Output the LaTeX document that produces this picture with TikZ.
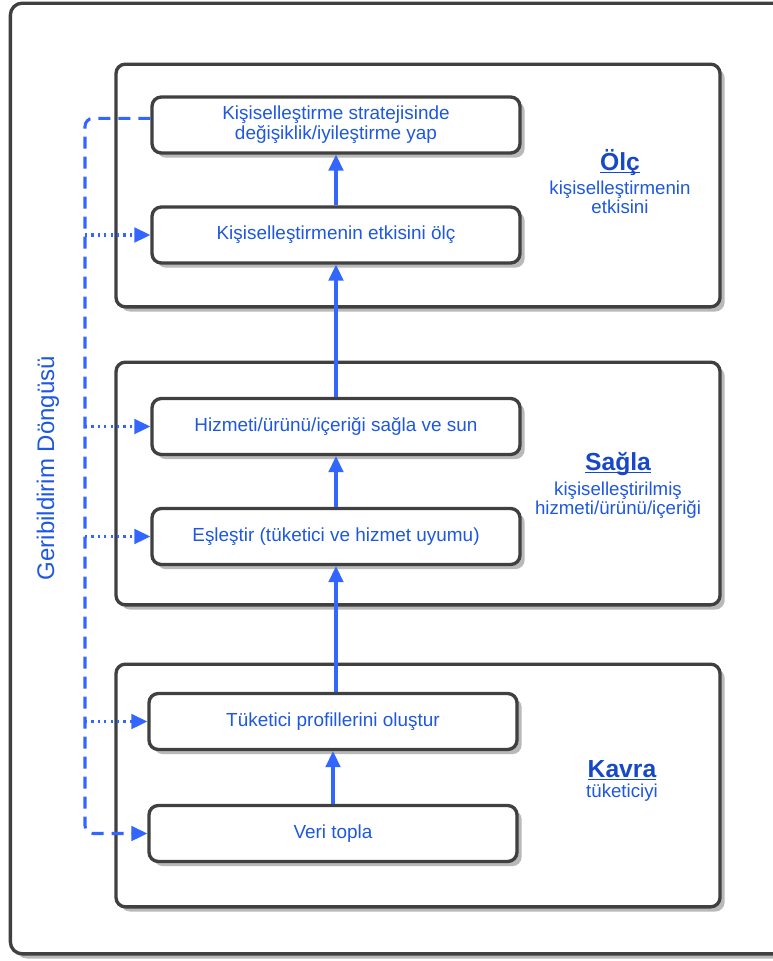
\documentclass[tikz,border=0pt]{standalone}
\usepackage{fontspec}
\setmainfont{Liberation Sans}
\usetikzlibrary{arrows.meta,shadows}

\definecolor{lineblue}{RGB}{51,102,255}
\definecolor{textblue}{RGB}{30,88,222}
\definecolor{titleblue}{RGB}{22,72,200}
\definecolor{edgegray}{RGB}{64,64,64}
\definecolor{shadegray}{RGB}{185,185,185}

\newcommand{\stagetitle}[1]{\underline{\smash{#1}}}

\begin{document}
\begin{tikzpicture}[x=0.75pt,y=-0.75pt,
  panel/.style={draw=edgegray, line width=2.5pt, fill=white, rounded corners=7pt,
    drop shadow={shadow xshift=3.5pt, shadow yshift=-3.5pt, fill=shadegray, opacity=1}},
  stepbox/.style={panel, minimum width=276pt, minimum height=42pt, inner sep=0pt,
    text=textblue, align=center, font=\fontsize{14.2}{15}\selectfont},
  group/.style={panel, minimum width=453pt, minimum height=182pt},
  grouptitle/.style={anchor=base, text=titleblue, font=\bfseries\fontsize{18.5}{20}\selectfont},
  groupsub/.style={text=textblue, align=center, font=\fontsize{14}{14.5}\selectfont},
  tip/.style={-{Triangle[length=12pt,width=11pt]}},
  flow/.style={draw=lineblue, line width=2.3pt, tip},
  fbdash/.style={draw=lineblue, line width=2.3pt, dash pattern=on 9pt off 6pt, rounded corners=6pt},
  fbdot/.style={draw=lineblue, line width=2.3pt, dash pattern=on 1.6pt off 3.2pt, tip}
]
% canvas
\useasboundingbox (0,0) rectangle (772,961);
\fill[white] (0,0) rectangle (772,961);

% outer frame (runs past the right edge)
\node[panel, rounded corners=9pt, minimum width=592pt, minimum height=713pt] (frame) at (405,478.5) {};

% the three stage panels
\node[group] (gOlc)   at (418,185.5) {};
\node[group] (gSagla) at (418,483.5) {};
\node[group] (gKavra) at (418,785.5) {};

% stage titles (placed by their baselines)
\node[grouptitle] (tOlc) at (620,170) {\stagetitle{Ölç}};
\node[groupsub]   (sOlc) at (620,197) {kişiselleştirmenin\\etkisini};
\node[grouptitle] (tSagla) at (618,470) {\stagetitle{Sağla}};
\node[groupsub]   (sSagla) at (618,500) {kişiselleştirilmiş\\hizmeti/ürünü/içeriği};
\node[grouptitle] (tKavra) at (622,777) {\stagetitle{Kavra}};
\node[groupsub]   (sKavra) at (622,793) {tüketiciyi};

% process steps
\node[stepbox] (b1) at (336,125)   {Kişiselleştirme stratejisinde\\değişiklik/iyileştirme yap};
\node[stepbox] (b2) at (336,235)   {Kişiselleştirmenin etkisini ölç};
\node[stepbox] (b3) at (336,426.5) {Hizmeti/ürünü/içeriği sağla ve sun};
\node[stepbox] (b4) at (336,536.5) {Eşleştir (tüketici ve hizmet uyumu)};
\node[stepbox] (b5) at (333,721.5) {Tüketici profillerini oluştur};
\node[stepbox] (b6) at (333,833.5) {Veri topla};

% upward flow
\draw[flow] (b6) -- (b5);
\draw[flow] (b4.south |- b5.north) -- (b4.south);
\draw[flow] (b4) -- (b3);
\draw[flow] (b3) -- (b2);
\draw[flow] (b2) -- (b1);

% feedback loop
\coordinate (loop) at (85,480);
\draw[fbdash, tip] ([yshift=5pt]b1.west) -| (loop) |- (b6.west);
\draw[fbdot] (loop |- b2.west) -- (b2.west);
\draw[fbdot] (loop |- b3.west) -- (b3.west);
\draw[fbdot] (loop |- b4.west) -- (b4.west);
\draw[fbdot] (loop |- b5.west) -- (b5.west);

\node[rotate=90, text=textblue, font=\fontsize{18}{20}\selectfont] (fbLabel) at (48,468) {Geribildirim Döngüsü};
\end{tikzpicture}
\end{document}
